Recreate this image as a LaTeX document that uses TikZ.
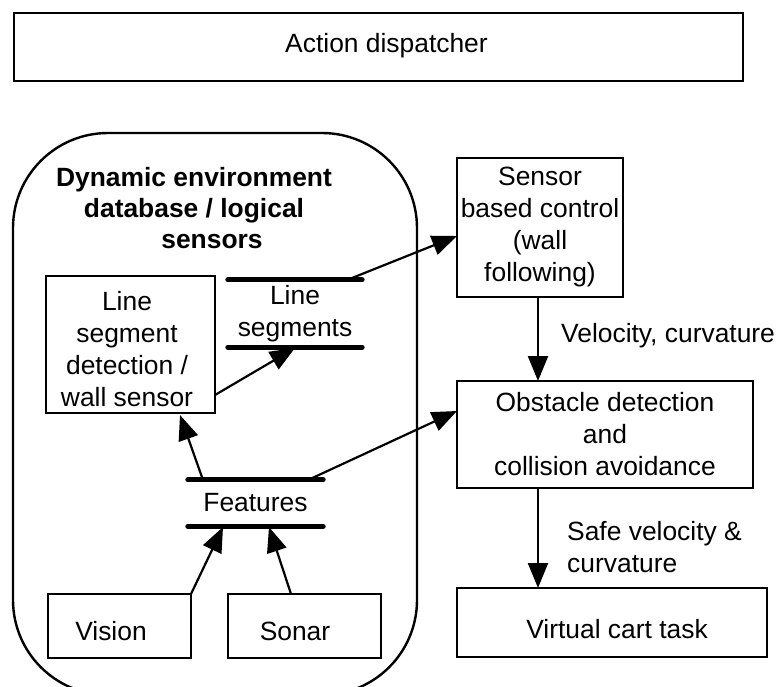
\documentclass[tikz,border=0pt]{standalone}
\usepackage{fontspec}
\setmainfont{Liberation Sans}
\usetikzlibrary{arrows.meta}

\begin{document}
\begin{tikzpicture}[x=1pt,y=-1pt,
  box/.style={draw, line width=2.6pt, inner sep=0pt},
  txt/.style={font=\fontsize{26.4}{32}\selectfont, align=center, inner sep=0pt},
  bold/.style={font=\bfseries\fontsize{26.4}{31}\selectfont, align=center, inner sep=0pt},
  flow/.style={line width=2.2pt, -{Triangle[length=25pt,width=20pt]}},
  bar/.style={line width=5pt, line cap=round},
  group/.style={draw, line width=2.4pt, rounded corners=95pt},
]
% page area
\clip (0,0) rectangle (781,686);
\fill[white] (0,0) rectangle (781,686);

% top level box
\node[box, minimum width=729pt, minimum height=68pt] (disp) at (378.5,47) {};
\node[txt] (disptext) at (386.5,46) {Action dispatcher};

% group of logical sensors (runs past the lower edge)
\draw[group] (13,133) rectangle (417,695);
\node[bold] (title) at (194,208) {Dynamic environment\\database / logical\\\hspace*{36pt}sensors};

% processes inside the group
\node[box, minimum width=169pt, minimum height=137pt] (lsd) at (130.5,344.5) {};
\node[txt] (lsdtext) at (127,349) {Line\\segment\\detection /\\wall sensor};
\node[box, minimum width=143pt, minimum height=64pt] (vision) at (119.5,626) {};
\node[txt] (visiontext) at (111,631) {Vision};
\node[box, minimum width=153pt, minimum height=64pt] (sonar) at (304.5,626) {};
\node[txt] (sonartext) at (295,631) {Sonar};

% data stores
\node[txt, minimum width=134pt, minimum height=67pt] (ls) at (295,313.5) {Line\\segments};
\draw[bar] (ls.north west) -- (ls.north east);
\draw[bar] (ls.south west) -- (ls.south east);
\node[txt, minimum width=135pt, minimum height=46pt] (feat) at (255.5,503) {Features};
\draw[bar] (feat.north west) -- (feat.north east);
\draw[bar] (feat.south west) -- (feat.south east);

% control chain on the right
\node[box, txt, minimum width=166pt, minimum height=139pt] (sbc) at (540,227.5) {Sensor\\based control\\(wall\\following)};
\node[box, txt, minimum width=296pt, minimum height=107pt] (obs) at (605,434.5) {Obstacle detection\\and\\collision avoidance};
\node[box, minimum width=310pt, minimum height=69pt] (cart) at (612,622.5) {};
\node[txt] (carttext) at (617,629) {Virtual cart task};

% connector end points
\coordinate (lsdOut) at (215,395);
\coordinate (lsIn) at (295,348);
\coordinate (lsOut) at (347,280);
\coordinate (sbcIn) at (457,236);
\coordinate (sbcOut) at (538,297);
\coordinate (obsInTop) at (538,381);
\coordinate (obsInLeft) at (457,411);
\coordinate (obsOut) at (538,488);
\coordinate (cartIn) at (538,588);
\coordinate (featOutA) at (203,480);
\coordinate (featOutB) at (308,480);
\coordinate (lsdIn) at (180,415);
\coordinate (visionOut) at (191,594);
\coordinate (sonarOut) at (291,594);
\coordinate (featInA) at (223,527);
\coordinate (featInB) at (269,527);

% connectors
\draw[flow] (lsdOut) -- (lsIn);
\draw[flow] (lsOut) -- (sbcIn);
\draw[flow] (sbcOut) -- (obsInTop);
\draw[flow] (featOutA) -- (lsdIn);
\draw[flow] (featOutB) -- (obsInLeft);
\draw[flow] (visionOut) -- (featInA);
\draw[flow] (sonarOut) -- (featInB);
\draw[flow] (obsOut) -- (cartIn);

% connector labels
\node[txt, anchor=west] (vel) at (561,336) {Velocity, curvature};
\node[txt, align=left, anchor=west] (safe) at (567,547) {Safe velocity \&\\curvature};
\end{tikzpicture}
\end{document}
